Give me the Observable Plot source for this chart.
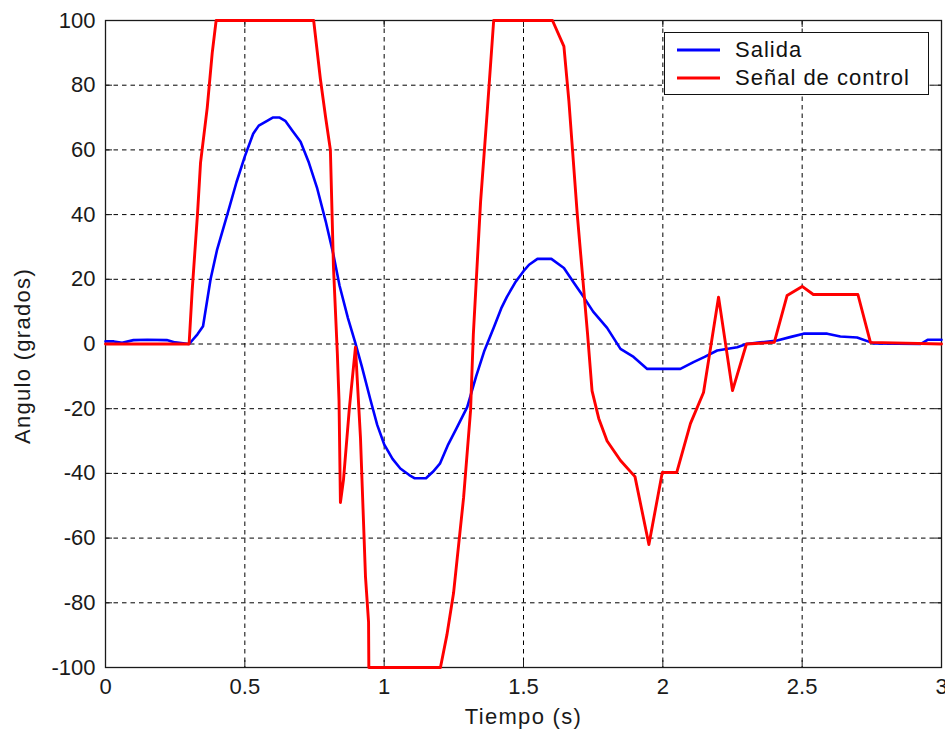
<!DOCTYPE html>
<html>
<head>
<meta charset="utf-8">
<script src="https://cdn.jsdelivr.net/npm/d3@7"></script>
<script src="https://cdn.jsdelivr.net/npm/@observablehq/plot@0.6"></script>
<style>
  html, body { margin: 0; padding: 0; background: #fff; }
  #wrap { position: relative; width: 945px; height: 729px; font-family: "Liberation Sans", Arial, sans-serif; }
  #legend { position: absolute; left: 664px; top: 32px; width: 263px; height: 61px; border: 1.5px solid #111; background: #fff; }
  #legend .row { position: absolute; left: 0; height: 28px; display: flex; align-items: center; font-size: 22px; letter-spacing: 1px; color: #111; }
  #legend svg { margin-left: 12px; margin-right: 15px; }
</style>
</head>
<body>
<div id="wrap"></div>
<script>
// Tiempo (s) and angle (grados) of the system output
const salidaT = [0, 0.03, 0.06, 0.1, 0.15, 0.22, 0.25, 0.3, 0.33, 0.35, 0.377, 0.4, 0.437, 0.47, 0.5, 0.53, 0.55, 0.58, 0.6, 0.625, 0.645, 0.67, 0.7, 0.73, 0.76, 0.79, 0.817, 0.84, 0.87, 0.896, 0.92, 0.95, 0.975, 1.0, 1.03, 1.058, 1.09, 1.11, 1.15, 1.175, 1.2, 1.23, 1.26, 1.298, 1.33, 1.36, 1.393, 1.42, 1.44, 1.47, 1.5, 1.52, 1.55, 1.6, 1.645, 1.68, 1.716, 1.75, 1.8, 1.848, 1.895, 1.944, 2.063, 2.11, 2.15, 2.195, 2.267, 2.3, 2.35, 2.41, 2.46, 2.505, 2.59, 2.637, 2.697, 2.757, 2.925, 2.95, 3.0];
const salidaV = [0.8, 0.8, 0.4, 1.2, 1.3, 1.2, 0.5, 0, 3, 5.5, 20, 29, 40, 50, 58, 65, 67.5, 69, 70, 70, 69, 66, 62.5, 56, 48, 38, 28, 18, 8, 0.5, -7, -17, -25, -31, -35.5, -38.5, -40.5, -41.5, -41.5, -39.5, -37, -31, -26, -19.5, -10, -2, 5, 11, 14.5, 19, 22.5, 24.5, 26.3, 26.3, 23.5, 19, 14.5, 10, 5, -1.5, -4, -7.7, -7.7, -5.6, -4, -2, -1, 0, 0.5, 1.1, 2.2, 3.2, 3.2, 2.3, 2, 0.2, 0, 1.3, 1.3];

// Control signal, saturated at ±100
const controlT = [0, 0.3, 0.311, 0.33, 0.341, 0.365, 0.383, 0.397, 0.747, 0.771, 0.79, 0.807, 0.818, 0.832, 0.838, 0.843, 0.854, 0.875, 0.897, 0.915, 0.933, 0.944, 0.945, 1.202, 1.225, 1.249, 1.285, 1.31, 1.32, 1.346, 1.37, 1.393, 1.604, 1.645, 1.663, 1.693, 1.73, 1.746, 1.77, 1.8, 1.848, 1.9, 1.95, 1.998, 2.05, 2.099, 2.146, 2.2, 2.25, 2.3, 2.4, 2.446, 2.5, 2.54, 2.7, 2.745, 3.0];
const controlV = [0, 0, 16.5, 40, 56, 73, 90, 100, 100, 82, 70, 60, 24, -3, -17.5, -49, -42, -20, -1, -29, -72, -86, -100, -100, -90, -77, -47.5, -20.6, 3, 44, 72, 100, 100, 92, 75, 40, 3, -14.5, -23, -30, -36, -41, -62, -39.7, -39.7, -24.6, -15, 14.5, -14.4, 0, 0.5, 15, 17.8, 15.3, 15.3, 0.5, 0];

const xTicks = [0, 0.5, 1, 1.5, 2, 2.5, 3];
const yTicks = [-100, -80, -60, -40, -20, 0, 20, 40, 60, 80, 100];
const seriesNames = ["Salida", "Señal de control"];
const seriesColors = ["#0000ff", "#ff0000"];
const xTitle = "Tiempo (s)";
const yTitle = "Angulo (grados)";

const salida = salidaT.map((t, i) => ({t, v: salidaV[i]}));
const control = controlT.map((t, i) => ({t, v: controlV[i]}));
const xInner = xTicks.slice(1, -1);
const yInner = yTicks.slice(1, -1);

const W = 945, H = 729;
const mL = 105, mR = 4, mT = 20, mB = 62;
const innerW = W - mL - mR, innerH = H - mT - mB;
const tick = 7;
const ink = "#1a1a1a";

const chart = Plot.plot({
  width: W,
  height: H,
  marginLeft: mL,
  marginRight: mR,
  marginTop: mT,
  marginBottom: mB,
  style: {fontFamily: "Liberation Sans, Arial, sans-serif", fontSize: "22px", color: ink, background: "#fff"},
  x: {domain: [0, 3]},
  y: {domain: [-100, 100]},
  marks: [
    // dashed grid
    Plot.ruleX(xInner, {x: d => d, stroke: "#000", strokeDasharray: "4.5,4", strokeWidth: 1}),
    Plot.ruleY(yInner, {y: d => d, stroke: "#000", strokeDasharray: "4.5,4", strokeWidth: 1}),
    // inward tick marks on all four sides
    Plot.tickX(xInner, {x: d => d, insetTop: innerH - tick, stroke: ink}),
    Plot.tickX(xInner, {x: d => d, insetBottom: innerH - tick, stroke: ink}),
    Plot.tickY(yInner, {y: d => d, insetRight: innerW - tick, stroke: ink}),
    Plot.tickY(yInner, {y: d => d, insetLeft: innerW - tick, stroke: ink}),
    Plot.frame({stroke: ink, strokeWidth: 1.3}),
    Plot.axisX(xTicks, {tickSize: 0, tickPadding: 11, tickFormat: d => String(d), label: null}),
    Plot.axisY(yTicks, {tickSize: 0, tickPadding: 10, tickFormat: d => String(d), label: null}),
    // output and control signal
    Plot.line(salida, {x: "t", y: "v", stroke: seriesColors[0], strokeWidth: 2.6}),
    Plot.line(control, {x: "t", y: "v", stroke: seriesColors[1], strokeWidth: 2.9}),
    // axis titles
    Plot.text([xTitle], {frameAnchor: "bottom", dy: 49, text: d => d, fontSize: 22, textAnchor: "middle", lineAnchor: "middle", fill: ink}),
    Plot.text([yTitle], {frameAnchor: "left", dx: -83, dy: 12, rotate: -90, text: d => d, fontSize: 22, textAnchor: "middle", lineAnchor: "middle", fill: ink})
  ]
});

// slightly spaced lettering for the axis titles
d3.select(chart).selectAll("text")
  .filter(function () { const s = this.textContent; return s === xTitle || s === yTitle; })
  .attr("letter-spacing", "1.3px");

const wrap = document.getElementById("wrap");
wrap.appendChild(chart);

// legend box
const legend = document.createElement("div");
legend.id = "legend";
seriesNames.forEach((name, i) => {
  const row = document.createElement("div");
  row.className = "row";
  row.style.top = (3 + i * 28) + "px";
  row.innerHTML = `<svg width="43" height="6"><line x1="0" x2="43" y1="3" y2="3" stroke="${seriesColors[i]}" stroke-width="3"/></svg><span>${name}</span>`;
  legend.appendChild(row);
});
wrap.appendChild(legend);
</script>
</body>
</html>
